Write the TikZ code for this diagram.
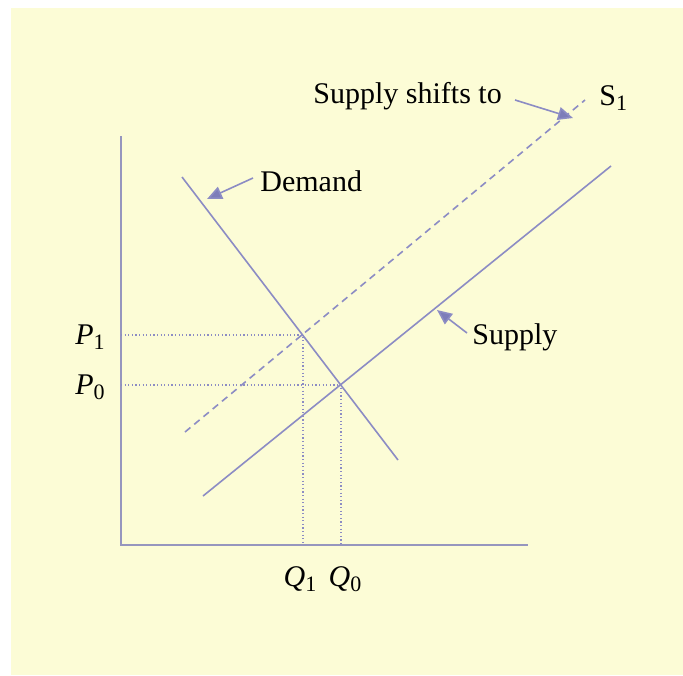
\documentclass[tikz,border=0pt]{standalone}
\usepackage{fontspec}
\setmainfont{Liberation Serif}
\usetikzlibrary{arrows.meta}
\definecolor{bgyellow}{RGB}{252,252,214}
\definecolor{curve}{RGB}{140,140,196}
\definecolor{axiscol}{RGB}{150,150,190}
\definecolor{tipcol}{RGB}{125,125,185}
\newcommand{\mysub}[1]{\raisebox{-0.35ex}{\upshape\fontsize{11pt}{12pt}\selectfont #1}}
\begin{document}
\begin{tikzpicture}[x=0.5pt,y=-0.5pt,
  lbl/.style={inner sep=0pt,font=\fontsize{15pt}{17pt}\selectfont},
  curveline/.style={draw=curve,line width=0.8pt},
  shiftline/.style={draw=curve,line width=0.8pt,dash pattern=on 3.5pt off 2.5pt},
  guide/.style={draw=curve,line width=0.7pt,dash pattern=on 0.6pt off 1.2pt},
  axisline/.style={draw=axiscol,line width=1.3pt},
  pointer/.style={draw=curve,line width=0.8pt,-{Triangle[length=7.5pt,width=6.5pt,fill=tipcol]}}]
\useasboundingbox (0,0) rectangle (683,675);
\fill[bgyellow] (11,8) rectangle (683,675);
% axes
\coordinate (ytop) at (121,136);
\coordinate (origin) at (121,545);
\coordinate (xend) at (528,545);
\draw[axisline] (ytop) -- (origin) -- (xend);
% curves
\coordinate (d0) at (182,177);
\coordinate (d1) at (398,460);
\coordinate (s0) at (203,496);
\coordinate (s1) at (611,166);
\coordinate (t0) at (185,432);
\coordinate (t1) at (585,100);
\coordinate (e1) at (303,335);
\coordinate (e0) at (341,385);
\coordinate (p1) at (121,335);
\coordinate (p0) at (121,385);
\coordinate (q1) at (303,545);
\coordinate (q0) at (341,545);
\draw[guide] (p1) -- (e1) -- (q1);
\draw[guide] (p0) -- (e0) -- (q0);
\draw[curveline] (d0) -- (d1);
\draw[curveline] (s0) -- (s1);
\draw[shiftline] (t0) -- (t1);
% labels
\node[lbl] (P1) at (90,337) {\itshape P\mysub{1}};
\node[lbl] (P0) at (90,387) {\itshape P\mysub{0}};
\node[lbl] (Q1) at (300,579) {\itshape Q\mysub{1}};
\node[lbl] (Q0) at (345,579) {\itshape Q\mysub{0}};
\node[lbl,anchor=west] (shifts) at (313,96) {Supply shifts to};
\node[lbl,anchor=west] (S1) at (599,98) {S\mysub{1}};
\node[lbl,anchor=west] (dem) at (260,181) {Demand};
\node[lbl,anchor=west] (sup) at (472,337) {Supply};
% pointers
\coordinate (a1s) at (515,100);
\coordinate (a1e) at (573,118);
\coordinate (a2s) at (253,178);
\coordinate (a2e) at (207,199);
\coordinate (a3s) at (467,333);
\coordinate (a3e) at (437,310);
\draw[pointer] (a1s) -- (a1e);
\draw[pointer] (a2s) -- (a2e);
\draw[pointer] (a3s) -- (a3e);
\end{tikzpicture}
\end{document}
